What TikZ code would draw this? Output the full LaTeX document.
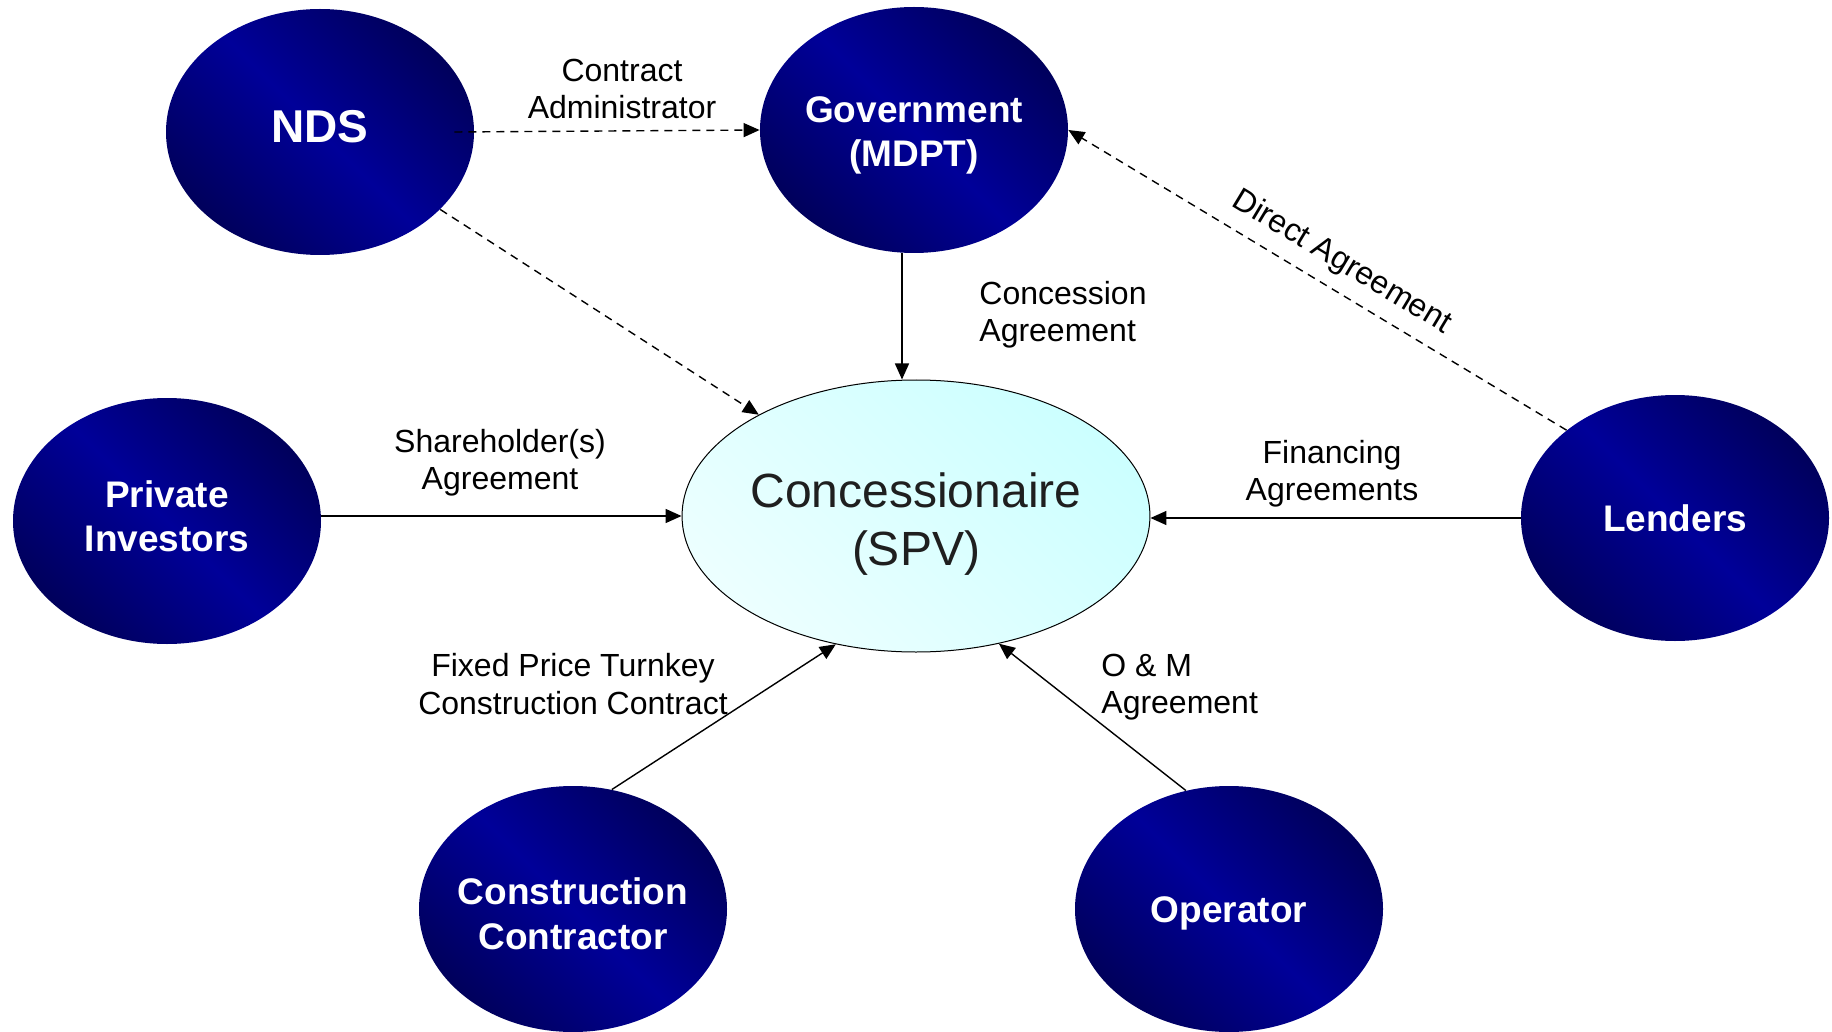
\documentclass[tikz,border=0pt]{standalone}
\usepackage{fontspec}
\setmainfont{Liberation Sans}
\usetikzlibrary{shapes.geometric,arrows.meta}
\definecolor{navy}{RGB}{0,0,153}
\definecolor{navydark}{RGB}{0,0,92}
\definecolor{aqua}{RGB}{204,255,255}
\definecolor{aqualight}{RGB}{236,255,255}
\begin{document}
\begin{tikzpicture}[x=0.5pt,y=-0.5pt,
    party/.style={ellipse, minimum width=154pt, minimum height=123pt, inner xsep=-8pt, inner ysep=0pt,
      top color=navydark, bottom color=navydark, middle color=navy, shading angle=-45,
      text=white, align=center, font=\bfseries\fontsize{18.5}{22.2}\selectfont},
    spv/.style={ellipse, draw, line width=0.5pt, minimum width=231pt, minimum height=136pt,
      inner sep=0pt, top color=aqua, bottom color=aqualight, shading angle=-45,
      text=black!88, align=center, font=\fontsize{24}{29.2}\selectfont},
    deal/.style={inner sep=0pt, align=center, font=\fontsize{16}{18.7}\selectfont},
    arr/.style={-{Triangle[length=8pt,width=7pt]}, line width=0.7pt},
    dashlink/.style={dash pattern=on 4pt off 3pt}]
  \useasboundingbox (0,0) rectangle (1832,1032);
  \node[party, text depth=6pt, font=\bfseries\fontsize{23}{27}\selectfont] (NDS) at (320,132) {NDS};
  \node[party, text height=40.5pt] (Gov) at (914,130) {Government\\(MDPT)};
  \node[party, text depth=5pt] (Inv) at (167,521) {Private\\Investors};
  \node[party] (Lend) at (1675,518) {Lenders};
  \node[party, text height=40.5pt] (Build) at (573,909) {Construction\\Contractor};
  \node[party, text height=17pt] (Oper) at (1229,909) {Operator};
  \node[spv, text height=54.7pt] (SPV) at (916,516) {Concessionaire\\(SPV)};
  \node[deal] (caLbl) at (622,89) {Contract\\Administrator};
  \node[deal, align=left, anchor=west] (concLbl) at (979,315) {Concession\\Agreement};
  \node[deal] (shLbl) at (500,463) {Shareholder(s)\\Agreement};
  \node[deal] (finLbl) at (1332,474) {Financing\\Agreements};
  \node[deal] (fptLbl) at (573,684) {Fixed Price Turnkey\\Construction Contract};
  \node[deal, align=left, anchor=west] (omLbl) at (1101,687) {O \& M\\Agreement};
  \draw[arr, dashlink] ([xshift=-10pt]NDS.east) -- (Gov.west);
  \draw[arr, dashlink] (NDS) -- (SPV);
  \draw[arr] ([xshift=-6pt]Gov.south) -- ([xshift=-6pt]Gov.south |- SPV.north);
  \draw[arr] (Inv.east |- SPV.west) -- (SPV.west);
  \draw[arr] (Lend.west) -- (SPV.east |- Lend.west);
  \draw[arr, dashlink] (Lend.141) -- node[deal, pos=0.48, sloped, above=6pt] {Direct Agreement} (Gov.east);
  \draw[arr] (Build.72) -- (SPV.238);
  \draw[arr] (Oper.110) -- (SPV.303);
\end{tikzpicture}
\end{document}
